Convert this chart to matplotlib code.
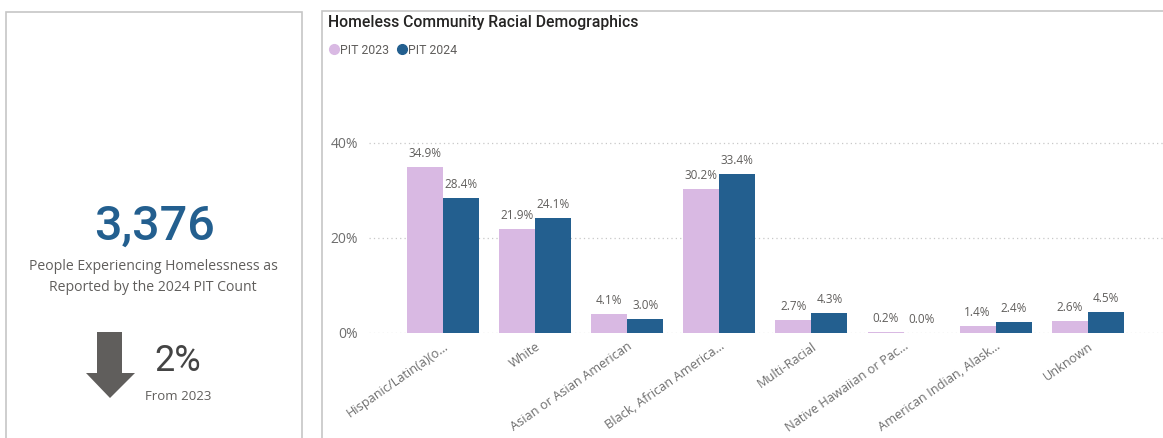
import matplotlib
matplotlib.use('Agg')
import numpy as np
from matplotlib import pyplot as plt
from matplotlib.lines import Line2D
from matplotlib.patches import Polygon, Rectangle

# ---------------------------------------------------------------------------
# Data
# ---------------------------------------------------------------------------
categories = [
    'Hispanic/Latin(a)(o...', 'White', 'Asian or Asian American',
    'Black, African America...', 'Multi-Racial', 'Native Hawaiian or Pac...',
    'American Indian, Alask...', 'Unknown'
]
pit2023 = [34.9, 21.9, 4.1, 30.2, 2.7, 0.2, 1.4, 2.6]
pit2024 = [28.4, 24.1, 3.0, 33.4, 4.3, 0.0, 2.4, 4.5]
seriesNames = ['PIT 2023', 'PIT 2024']
yTicks = [0, 20, 40]

totalCount = '3,376'
changePct = '2%'

# ---------------------------------------------------------------------------
# Style
# ---------------------------------------------------------------------------
W, H = 1163, 438
PINK = '#D9B9E3'
BLUE = '#235F8F'
GRAY = '#605E5C'
LIGHT = '#6E6E6E'
BORDER = '#C6C6C6'
LABEL_FONT = ['Open Sans', 'DejaVu Sans']
TITLE_FONT = ['Roboto', 'DejaVu Sans']


def px(x, y):
    # pixel coords (origin top-left) -> figure fraction
    return (x / W, 1 - y / H)


fig = plt.figure(figsize=(W / 100, H / 100), dpi=100)
fig.patch.set_facecolor('white')

# Card borders
fig.patches.append(Rectangle(px(6, 460), 296 / W, 448 / H, transform=fig.transFigure,
                             fill=False, edgecolor=BORDER, lw=1.2))
fig.patches.append(Rectangle(px(322, 460), 900 / W, 449 / H, transform=fig.transFigure,
                             fill=False, edgecolor=BORDER, lw=1.2))

# ---------------------------------------------------------------------------
# Left card (KPI)
# ---------------------------------------------------------------------------
fig.text(*px(155, 227), totalCount, ha='center', va='center', fontsize=35,
         color=BLUE, family=TITLE_FONT, fontweight='medium')
fig.text(*px(153, 277), 'People Experiencing Homelessness as\nReported by the 2024 PIT Count',
         ha='center', va='center', fontsize=10.1, color=GRAY, family=LABEL_FONT,
         linespacing=1.5)
arrow = [(97, 332), (122, 332), (122, 373), (135, 373), (110, 398),
         (86, 373), (97, 373)]
fig.patches.append(Polygon([px(x, y) for x, y in arrow], closed=True,
                           transform=fig.transFigure, facecolor=GRAY, edgecolor='none'))
fig.text(*px(178, 361), changePct, ha='center', va='center', fontsize=26,
         color='#444444', family=TITLE_FONT)
fig.text(*px(178, 396), 'From 2023', ha='center', va='center', fontsize=9.5,
         color=GRAY, family=LABEL_FONT)

# ---------------------------------------------------------------------------
# Bar chart
# ---------------------------------------------------------------------------
fig.text(*px(328, 22), 'Homeless Community Racial Demographics', ha='left',
         va='center', fontsize=11.3, color='#252423', family=TITLE_FONT,
         fontweight='medium')

step = 92.1
left, right, bottom, top = 369, 1163, 333, 119
ax = fig.add_axes([left / W, 1 - bottom / H, (right - left) / W, (bottom - top) / H])
ax.set_xlim((left - 443) / step, (left - 443) / step + (right - left) / step)
ax.set_ylim(0, 45)

x = np.arange(len(categories))
bw = 36 / step
b1 = ax.bar(x - bw / 2, pit2023, bw, color=PINK, zorder=3)
b2 = ax.bar(x + bw / 2, pit2024, bw, color=BLUE, zorder=3)
for bars, vals in ((b1, pit2023), (b2, pit2024)):
    for bar, v in zip(bars, vals):
        ax.annotate('{:.1f}%'.format(v), (bar.get_x() + bar.get_width() / 2, v),
                    xytext=(0, 5), textcoords='offset points', ha='center',
                    va='bottom', fontsize=8.5, color=GRAY, family=LABEL_FONT)

ax.set_yticks(yTicks)
ax.set_yticklabels(['{}%'.format(t) for t in yTicks], fontsize=10, color=LIGHT,
                   family=LABEL_FONT)
ax.set_xticks(x)
ax.set_xticklabels(categories, rotation=35, ha='right', rotation_mode='anchor',
                   fontsize=9.2, color=LIGHT, family=LABEL_FONT)
ax.tick_params(axis='both', length=0)
ax.tick_params(axis='y', pad=8)
ax.tick_params(axis='x', pad=5)
ax.grid(axis='y', color='#C8C8C8', linestyle=(0, (1, 2.5)), lw=0.9, zorder=0)
for s in ax.spines.values():
    s.set_visible(False)
ax.set_facecolor('none')

handles = [Line2D([], [], marker='o', linestyle='none', markersize=7,
                  markerfacecolor=c, markeredgecolor=c) for c in (PINK, BLUE)]
fig.legend(handles, seriesNames, loc='center left', bbox_to_anchor=px(316, 50),
           ncol=2, frameon=False, handletextpad=-0.1, columnspacing=0.4,
           handlelength=1.2, prop={'family': TITLE_FONT, 'size': 8.8},
           labelcolor=GRAY)

fig.savefig('out.png', dpi=100)
